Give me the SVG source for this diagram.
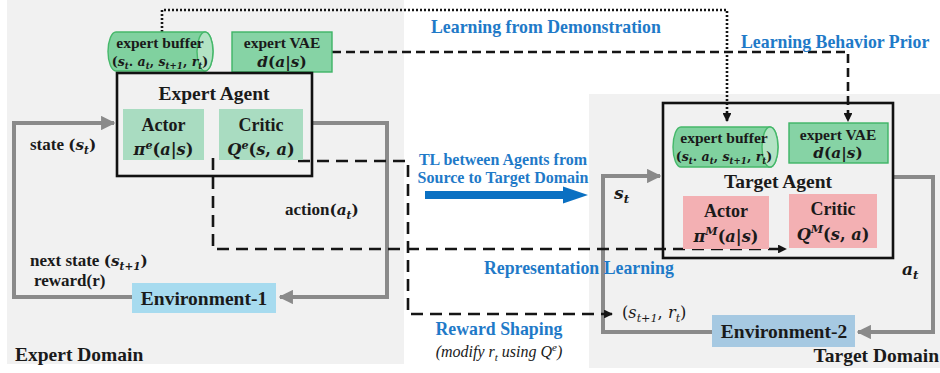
<svg xmlns="http://www.w3.org/2000/svg" width="940" height="373" viewBox="0 0 940 373">
  <style>
    .t { font-family: "Liberation Serif", "Times New Roman", serif; font-weight: bold; fill: #1a1a1a; }
    .m { font-family: "DejaVu Serif", "Liberation Serif", serif; font-style: italic; font-size: 0.9em; }
    .u { font-family: "DejaVu Serif", "Liberation Serif", serif; font-style: normal; font-size: 0.9em; }
    .m.sm { font-size: 0.62em; }
    .reg { font-weight: normal; }
    .blue { fill: #1f7ac8; }
    .loop { fill: none; stroke: #8a8a8a; stroke-width: 4; }
    .dash { fill: none; stroke: #151515; stroke-width: 2.6; stroke-dasharray: 12 7; }
    .dash2 { fill: none; stroke: #151515; stroke-width: 2.6; stroke-dasharray: 9 5; }
    .dot { fill: none; stroke: #151515; stroke-width: 2.6; stroke-dasharray: 2 2; }
    .agent { fill: none; stroke: #111; stroke-width: 2.6; }
    .buf { fill: #80d19f; stroke: #45b86a; stroke-width: 1.4; }
    .bufcap { fill: #b3e3c4; stroke: #45b86a; stroke-width: 1.4; }
    .vae { fill: #86d3a5; stroke: #3eb466; stroke-width: 1.4; }
    .eac { fill: #a9dcc1; }
    .tac { fill: #f3b0b3; }
  </style>
  <defs>
    <marker id="grayHead" viewBox="0 0 10 10" refX="9" refY="5" markerWidth="3.6" markerHeight="3.6" orient="auto" markerUnits="strokeWidth">
      <path d="M0,0 L10,5 L0,10 Z" fill="#8a8a8a"/>
    </marker>
    <marker id="blackHead" viewBox="0 0 10 10" refX="9" refY="5" markerWidth="3.4" markerHeight="3.4" orient="auto" markerUnits="strokeWidth">
      <path d="M0,0 L10,5 L0,10 Z" fill="#151515"/>
    </marker>
  </defs>

  <!-- domain backgrounds -->
  <rect x="0" y="0" width="940" height="373" fill="#ffffff"/>
  <rect x="7" y="0" width="397" height="364" fill="#f1f1f1"/>
  <rect x="589" y="94" width="351" height="274" fill="#f1f1f1"/>

  <!-- connectors -->
  <g id="connectors">
    <!-- environment loops -->
    <path class="loop" d="M132,297 H14 V123 H114" marker-end="url(#grayHead)"/>
    <path class="loop" d="M312,123 H387 V297 H280" marker-end="url(#grayHead)"/>
    <path class="loop" d="M712,332 H603 V176 H660" marker-end="url(#grayHead)"/>
    <path class="loop" d="M893,177 H933 V332 H858" marker-end="url(#grayHead)"/>

    <!-- learning from demonstration -->
    <path class="dot" d="M162,32 V10 H727 V121" marker-end="url(#blackHead)"/>
    <!-- learning behavior prior -->
    <path class="dash2" d="M332,52 H848 V121" marker-end="url(#blackHead)"/>
    <!-- representation learning -->
    <path class="dash" d="M213,158 V249 H786" marker-end="url(#blackHead)"/>
    <!-- reward shaping -->
    <path class="dash" d="M298,161 H408 V314 H612" marker-end="url(#blackHead)"/>

    <!-- transfer arrow between agents -->
    <path d="M425,191 H563 V186.5 L588,195 L563,203.5 V199 H425 Z" fill="#0a70c2"/>
  </g>

  <!-- expert side -->
  <g id="expert-buffer">
    <path class="buf" d="M116,32 H205 A8,19.5 0 0 1 205,71 H116 A8,19.5 0 0 1 116,32 Z"/>
    <ellipse class="bufcap" cx="205" cy="51.5" rx="8" ry="19.5"/>
    <text class="t" x="160" y="48" font-size="15.5" text-anchor="middle">expert buffer</text>
    <text class="t" x="160" y="66" font-size="14" text-anchor="middle"><tspan class="u">(</tspan><tspan class="m">s</tspan><tspan class="m sm" dy="3">t</tspan><tspan class="u" dy="-3">. </tspan><tspan class="m">a</tspan><tspan class="m sm" dy="3">t</tspan><tspan class="u" dy="-3">, </tspan><tspan class="m">s</tspan><tspan class="m sm" dy="3">t+1</tspan><tspan class="u" dy="-3">, </tspan><tspan class="m">r</tspan><tspan class="m sm" dy="3">t</tspan><tspan class="u" dy="-3">)</tspan></text>
  </g>

  <g id="expert-vae">
    <rect class="vae" x="232" y="32" width="100" height="40"/>
    <text class="t" x="282" y="48" font-size="15.5" text-anchor="middle">expert VAE</text>
    <text class="t" x="282" y="67" font-size="17" text-anchor="middle"><tspan class="m">d</tspan><tspan class="u">(</tspan><tspan class="m">a</tspan><tspan class="u">|</tspan><tspan class="m">s</tspan><tspan class="u">)</tspan></text>
  </g>

  <g id="expert-agent">
    <rect class="agent" x="117" y="73" width="195" height="103"/>
    <text class="t" x="214" y="100" font-size="19.5" text-anchor="middle">Expert Agent</text>
  </g>

  <g id="expert-actor">
    <rect class="eac" x="123" y="109" width="81" height="51"/>
    <text class="t" x="163.5" y="131" font-size="18" text-anchor="middle">Actor</text>
    <text class="t" x="163.5" y="155" font-size="18" text-anchor="middle"><tspan class="m">π</tspan><tspan class="m sm" dy="-6">e</tspan><tspan class="u" dy="6">(</tspan><tspan class="m">a</tspan><tspan class="u">|</tspan><tspan class="m">s</tspan><tspan class="u">)</tspan></text>
  </g>

  <g id="expert-critic">
    <rect class="eac" x="219" y="109" width="84" height="51"/>
    <text class="t" x="261" y="131" font-size="18" text-anchor="middle">Critic</text>
    <text class="t" x="261" y="155" font-size="18" text-anchor="middle"><tspan class="m">Q</tspan><tspan class="m sm" dy="-6">e</tspan><tspan class="u" dy="6">(</tspan><tspan class="m">s</tspan><tspan class="u">, </tspan><tspan class="m">a</tspan><tspan class="u">)</tspan></text>
  </g>

  <g id="environment-1">
    <rect x="132" y="283" width="144" height="30" fill="#a7dbef"/>
    <text class="t" x="204" y="305" font-size="19.5" text-anchor="middle">Environment-1</text>
  </g>

  <!-- target side -->
  <g id="target-agent">
    <rect class="agent" x="663" y="103" width="230" height="155"/>
    <text class="t" x="778" y="188" font-size="19.5" text-anchor="middle">Target Agent</text>
  </g>

  <g id="target-buffer">
    <path class="buf" d="M681,127 H770 A8,20 0 0 1 770,167 H681 A8,20 0 0 1 681,127 Z"/>
    <ellipse class="bufcap" cx="770" cy="147" rx="8" ry="20"/>
    <text class="t" x="724" y="143" font-size="15.5" text-anchor="middle">expert buffer</text>
    <text class="t" x="724" y="161" font-size="14" text-anchor="middle"><tspan class="u">(</tspan><tspan class="m">s</tspan><tspan class="m sm" dy="3">t</tspan><tspan class="u" dy="-3">. </tspan><tspan class="m">a</tspan><tspan class="m sm" dy="3">t</tspan><tspan class="u" dy="-3">, </tspan><tspan class="m">s</tspan><tspan class="m sm" dy="3">t+1</tspan><tspan class="u" dy="-3">, </tspan><tspan class="m">r</tspan><tspan class="m sm" dy="3">t</tspan><tspan class="u" dy="-3">)</tspan></text>
  </g>

  <g id="target-vae">
    <rect class="vae" x="789" y="123" width="99" height="40"/>
    <text class="t" x="838" y="140" font-size="15.5" text-anchor="middle">expert VAE</text>
    <text class="t" x="838" y="158" font-size="17" text-anchor="middle"><tspan class="m">d</tspan><tspan class="u">(</tspan><tspan class="m">a</tspan><tspan class="u">|</tspan><tspan class="m">s</tspan><tspan class="u">)</tspan></text>
  </g>

  <g id="target-actor">
    <rect class="tac" x="683" y="196" width="86" height="53"/>
    <text class="t" x="726" y="217" font-size="18" text-anchor="middle">Actor</text>
    <text class="t" x="726" y="242" font-size="18" text-anchor="middle"><tspan class="m">π</tspan><tspan class="m sm" dy="-7">M</tspan><tspan class="u" dy="7">(</tspan><tspan class="m">a</tspan><tspan class="u">|</tspan><tspan class="m">s</tspan><tspan class="u">)</tspan></text>
  </g>

  <g id="target-critic">
    <rect class="tac" x="789" y="194" width="88" height="54"/>
    <text class="t" x="833" y="215" font-size="18" text-anchor="middle">Critic</text>
    <text class="t" x="833" y="240" font-size="18" text-anchor="middle"><tspan class="m">Q</tspan><tspan class="m sm" dy="-7">M</tspan><tspan class="u" dy="7">(</tspan><tspan class="m">s</tspan><tspan class="u">, </tspan><tspan class="m">a</tspan><tspan class="u">)</tspan></text>
  </g>

  <g id="environment-2">
    <rect x="712" y="315" width="143" height="32" fill="#a6c9e2"/>
    <text class="t" x="784" y="338" font-size="19.5" text-anchor="middle">Environment-2</text>
  </g>

  <!-- loop labels -->
  <g id="labels">
    <text class="t" x="30" y="150" font-size="17">state <tspan class="u">(</tspan><tspan class="m">s</tspan><tspan class="m sm" dy="4">t</tspan><tspan class="u" dy="-4">)</tspan></text>
    <text class="t" x="285" y="215" font-size="17">action<tspan class="u">(</tspan><tspan class="m">a</tspan><tspan class="m sm" dy="4">t</tspan><tspan class="u" dy="-4">)</tspan></text>
    <text class="t" x="30" y="266" font-size="17">next state <tspan class="u">(</tspan><tspan class="m">s</tspan><tspan class="m sm" dy="4">t+1</tspan><tspan class="u" dy="-4">)</tspan></text>
    <text class="t" x="34" y="286" font-size="17">reward(r)</text>
    <text class="t" x="15" y="361" font-size="19.5">Expert Domain</text>

    <text class="t" x="614" y="199" font-size="19"><tspan class="m">s</tspan><tspan class="m sm" dy="4">t</tspan></text>
    <text class="t" x="902" y="275" font-size="19"><tspan class="m">a</tspan><tspan class="m sm" dy="4">t</tspan></text>
    <text class="t reg" x="622" y="318" font-size="18"><tspan class="u">(</tspan><tspan class="m">s</tspan><tspan class="m sm" dy="4">t+1</tspan><tspan class="u" dy="-4">, </tspan><tspan class="m">r</tspan><tspan class="m sm" dy="4">t</tspan><tspan class="u" dy="-4">)</tspan></text>
    <text class="t" x="939" y="362" font-size="19.5" text-anchor="end">Target Domain</text>

    <text class="t blue" x="431" y="33" font-size="17.8">Learning from Demonstration</text>
    <text class="t blue" x="741" y="48" font-size="17.8">Learning Behavior Prior</text>
    <text class="t blue" x="503" y="165" font-size="16" text-anchor="middle">TL between Agents from</text>
    <text class="t blue" x="503" y="183" font-size="16" text-anchor="middle">Source to Target Domain</text>
    <text class="t blue" x="484" y="274" font-size="17.8">Representation Learning</text>
    <text class="t blue" x="499" y="335" font-size="17.8" text-anchor="middle">Reward Shaping</text>
    <text class="t reg" x="499" y="357" font-size="16" text-anchor="middle" fill="#2a2a2a" font-style="italic">(modify <tspan>r</tspan><tspan font-size="11" dy="4">t</tspan><tspan dy="-4"> using </tspan><tspan>Q</tspan><tspan font-size="11" dy="-6">e</tspan><tspan dy="6">)</tspan></text>
  </g>
</svg>
